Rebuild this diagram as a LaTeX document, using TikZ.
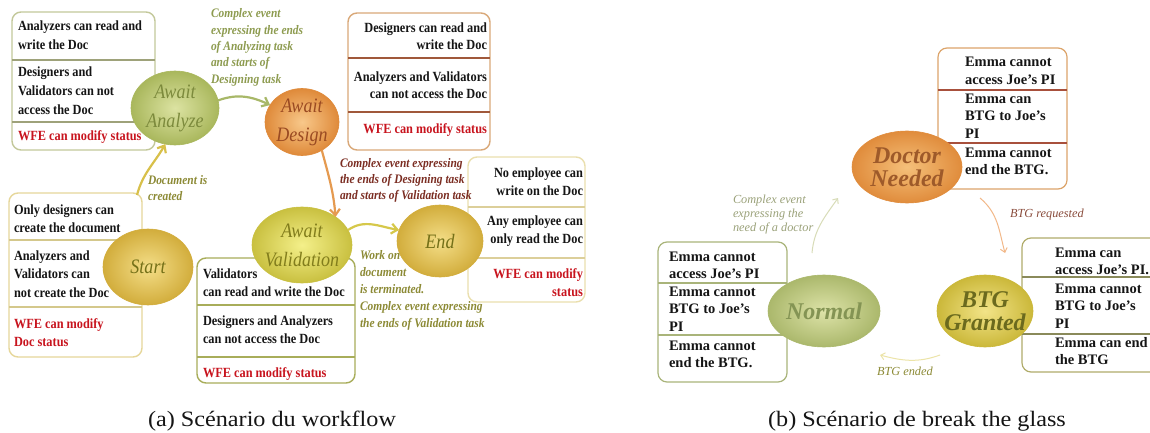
\documentclass[tikz,border=0pt]{standalone}
\usepackage{fontspec}
\setmainfont{Liberation Serif}
\newfontfamily\condf[FakeStretch=0.88]{Liberation Serif}
\newfontfamily\capf[FakeStretch=1.1]{Liberation Serif}
\usetikzlibrary{shapes.geometric,arrows.meta,calc}
\definecolor{txtblack}{HTML}{151515}
\definecolor{wfered}{HTML}{C8141E}
% box borders
\definecolor{bdAna}{HTML}{C3C89A}\definecolor{dvAna}{HTML}{9EA27A}
\definecolor{bdDes}{HTML}{D9A878}\definecolor{dvDes}{HTML}{A0583A}
\definecolor{bdSta}{HTML}{E6D79A}\definecolor{dvSta}{HTML}{D4C88C}
\definecolor{bdVal}{HTML}{A8AD5A}\definecolor{dvVal}{HTML}{A8AD5A}
\definecolor{bdEnd}{HTML}{EADFAE}\definecolor{dvEnd}{HTML}{DCCF9A}
\definecolor{bdDoc}{HTML}{DCA46A}\definecolor{dvDoc}{HTML}{A8503C}
\definecolor{bdNor}{HTML}{A9B47A}\definecolor{dvNor}{HTML}{A9B47A}
\definecolor{bdBtg}{HTML}{B0AC6A}\definecolor{dvBtg}{HTML}{8A8A5A}
% ellipse colours
\definecolor{inAna}{HTML}{DCE3A2}\definecolor{outAna}{HTML}{A9B75C}\definecolor{txAna}{HTML}{7C8A3C}
\definecolor{inDes}{HTML}{F8C88A}\definecolor{outDes}{HTML}{DF8A3A}\definecolor{txDes}{HTML}{9A4A22}
\definecolor{inVal}{HTML}{F4F08A}\definecolor{outVal}{HTML}{C9C040}\definecolor{txVal}{HTML}{827D1C}
\definecolor{inSta}{HTML}{F4DE88}\definecolor{outSta}{HTML}{D2AD3C}\definecolor{txSta}{HTML}{747018}
\definecolor{inDoc}{HTML}{F5C07A}\definecolor{outDoc}{HTML}{E08C3C}\definecolor{txDoc}{HTML}{9E5A2A}
\definecolor{inBtg}{HTML}{F2E488}\definecolor{outBtg}{HTML}{CBB83A}\definecolor{txBtg}{HTML}{6B6A1E}
\definecolor{inNor}{HTML}{DDE3A8}\definecolor{outNor}{HTML}{ABB86C}\definecolor{txNor}{HTML}{849454}
% labels and arrows
\definecolor{lbGreen}{HTML}{8D9B4F}\definecolor{lbRed}{HTML}{7B2D22}\definecolor{lbOlive}{HTML}{8C8A35}
\definecolor{lbGrey}{HTML}{9BA27A}\definecolor{lbBrown}{HTML}{8A4C3C}
\definecolor{arSta}{HTML}{D8C04A}\definecolor{arAna}{HTML}{A8B868}\definecolor{arDes}{HTML}{E59A50}
\definecolor{arVal}{HTML}{D6C84A}\definecolor{arNor}{HTML}{D8DCB8}\definecolor{arDoc}{HTML}{F2B888}
\definecolor{arBtg}{HTML}{ECE4A8}
\begin{document}
\begin{tikzpicture}[x=1pt,y=-1pt,
  every node/.style={inner sep=0pt, outer sep=0pt},
  cbox/.style={draw, rounded corners=9pt, line width=1.4pt, fill=white, anchor=north west},
  divl/.style={line width=1.3pt},
  ltxt/.style={font=\condf\bfseries\fontsize{14}{18.5}\selectfont, text=txtblack, align=left, anchor=base west},
  ltxtr/.style={ltxt, align=right, anchor=base east},
  rtxt/.style={font=\bfseries\fontsize{14.5}{17.8}\selectfont, text=txtblack, align=left, anchor=base west},
  state/.style={ellipse, line width=0.6pt},
  lstate/.style={font=\condf\itshape\fontsize{20.5}{29}\selectfont, align=center},
  rstate/.style={font=\bfseries\itshape\fontsize{24}{23}\selectfont, align=center},
  llbl/.style={font=\condf\bfseries\itshape\fontsize{13}{16.3}\selectfont, align=left, anchor=base west},
  rlbl/.style={font=\itshape\fontsize{12.3}{14.3}\selectfont, align=left, anchor=base west},
  arr/.style={-{Straight Barb[length=6pt,width=10pt]}, line width=2.2pt},
  rarr/.style={-{Straight Barb[length=4pt,width=7pt]}, line width=1pt},
  capt/.style={font=\capf\fontsize{22}{22}\selectfont, text=txtblack, anchor=base}
]
\useasboundingbox (0,0) rectangle (1150,433);
\clip (0,0) rectangle (1150,433);
\fill[white] (0,0) rectangle (1150,433);
% (text nodes are placed at the baseline of their LAST line)

% ---------------- boxes (left) ----------------
\node[cbox, draw=bdAna, minimum width=143, minimum height=138] (bAna) at (12,12) {};
\draw[divl, dvAna] (12,60) -- (155,60) (12,122) -- (155,122);
\node[ltxt] (tA1) at (18,49.5) {Analyzers can read and\\write the Doc};
\node[ltxt] (tA2) at (18,114) {Designers and\\Validators can not\\access the Doc};
\node[ltxt, text=wfered] (tA3) at (18,140) {WFE can modify status};

\node[cbox, draw=bdDes, minimum width=142, minimum height=137] (bDes) at (348,13) {};
\draw[divl, dvDes] (348,58) -- (490,58) (348,112) -- (490,112);
\node[ltxtr, font=\condf\bfseries\fontsize{14}{17}\selectfont] (tD1) at (487,50) {Designers can read and\\write the Doc};
\node[ltxtr, font=\condf\bfseries\fontsize{14}{17}\selectfont] (tD2) at (487,99) {Analyzers and Validators\\can not access the Doc};
\node[ltxtr, text=wfered] (tD3) at (487,133) {WFE can modify status};

\node[cbox, draw=bdSta, minimum width=133, minimum height=164] (bSta) at (9,193) {};
\draw[divl, dvSta] (9,240) -- (142,240) (9,307) -- (142,307);
\node[ltxt] (tS1) at (14,232.5) {Only designers can\\create the document};
\node[ltxt] (tS2) at (14,297) {Analyzers and\\Validators can\\not create the Doc};
\node[ltxt, text=wfered] (tS3) at (14,346.5) {WFE can modify\\Doc status};

\node[cbox, draw=bdVal, minimum width=158, minimum height=125] (bVal) at (197,258) {};
\draw[divl, dvVal] (197,305) -- (355,305) (197,357) -- (355,357);
\node[ltxt] (tV1) at (203,296.5) {Validators\\can read and write the Doc};
\node[ltxt] (tV2) at (203,343.5) {Designers and Analyzers\\can not access the Doc};
\node[ltxt, text=wfered] (tV3) at (203,377) {WFE can modify status};

\node[cbox, draw=bdEnd, minimum width=117, minimum height=145] (bEnd) at (468,157) {};
\draw[divl, dvEnd] (468,207) -- (585,207) (468,258) -- (585,258);
\node[ltxtr] (tE1) at (583,195.5) {No employee can\\write on the Doc};
\node[ltxtr] (tE2) at (583,243.5) {Any employee can\\only read the Doc};
\node[ltxtr, text=wfered] (tE3) at (583,296.5) {WFE can modify\\status};

% ---------------- boxes (right) ----------------
\node[cbox, draw=bdDoc, line width=1.2pt, minimum width=129, minimum height=141] (bDoc) at (938,48) {};
\draw[divl, dvDoc] (938,90) -- (1067,90) (938,143) -- (1067,143);
\node[rtxt] (tN1) at (965,84.8) {Emma cannot\\access Joe’s PI};
\node[rtxt] (tN2) at (965,138.6) {Emma can\\BTG to Joe’s\\PI};
\node[rtxt] (tN3) at (965,174.8) {Emma cannot\\end the BTG.};

\node[cbox, draw=bdNor, line width=1.2pt, minimum width=129, minimum height=140] (bNor) at (658,242) {};
\draw[divl, dvNor] (658,283) -- (787,283) (658,335) -- (787,335);
\node[rtxt] (tR1) at (669,278.8) {Emma cannot\\access Joe’s PI};
\node[rtxt] (tR2) at (669,331.6) {Emma cannot\\BTG to Joe’s\\PI};
\node[rtxt] (tR3) at (669,367.8) {Emma cannot\\end the BTG.};

\node[cbox, draw=bdBtg, line width=1.2pt, minimum width=150, minimum height=134] (bBtg) at (1022,238) {};
\draw[divl, dvBtg] (1022,277) -- (1172,277) (1022,334) -- (1172,334);
\node[rtxt] (tG1) at (1055,274.8) {Emma can\\access Joe’s PI.};
\node[rtxt] (tG2) at (1055,328.6) {Emma cannot\\BTG to Joe’s\\PI};
\node[rtxt] (tG3) at (1055,364.8) {Emma can end\\the BTG};

% ---------------- states ----------------
\node[state, draw=outAna, inner color=inAna, outer color=outAna, minimum width=88, minimum height=74] (aa) at (175,108) {};
\node[lstate, text=txAna] (aaT) at (aa.center) {Await\\Analyze};
\node[state, draw=outDes, inner color=inDes, outer color=outDes, minimum width=74, minimum height=67] (ad) at (302,122) {};
\node[lstate, text=txDes] (adT) at (ad.center) {Await\\Design};
\node[state, draw=outVal, inner color=inVal, outer color=outVal, minimum width=100, minimum height=76] (av) at (302,245) {};
\node[lstate, text=txVal] (avT) at (av.center) {Await\\Validation};
\node[state, draw=outSta, inner color=inSta, outer color=outSta, minimum width=90, minimum height=76] (ss) at (148,267) {};
\node[lstate, text=txSta] (ssT) at (ss.center) {Start};
\node[state, draw=outSta, inner color=inSta, outer color=outSta, minimum width=86, minimum height=72] (ee) at (440,241) {};
\node[lstate, text=txSta] (eeT) at (ee.center) {End};

\node[state, draw=outDoc, inner color=inDoc, outer color=outDoc, minimum width=110, minimum height=72] (dn) at (907,167) {};
\node[rstate, text=txDoc] (dnT) at (dn.center) {Doctor\\Needed};
\node[state, draw=outBtg, inner color=inBtg, outer color=outBtg, minimum width=96, minimum height=72] (bg) at (985,311) {};
\node[rstate, text=txBtg] (bgT) at (bg.center) {BTG\\Granted};
\node[state, draw=outNor, inner color=inNor, outer color=outNor, minimum width=112, minimum height=72] (nm) at (824,311) {};
\node[rstate, text=txNor] (nmT) at (nm.center) {Normal};

% ---------------- connectors (left) ----------------
\coordinate (s2a) at (137,195);
\draw[arr, arSta] (s2a) to[out=75, in=240] (aa.255);
\draw[arr, arAna] (aa.10) to[out=20, in=155] (ad.152);
\draw[arr, arDes] (ad.-55) to[out=-75, in=95] (av.40);
\draw[arr, arVal] (av.18) to[out=35, in=170] (ee.165);

% ---------------- connectors (right) ----------------
\coordinate (n2d) at (812,253); \coordinate (n2dE) at (838,198);
\coordinate (d2b) at (980,198); \coordinate (d2bE) at (1005,253);
\coordinate (b2n) at (940,355); \coordinate (b2nE) at (880,355);
\draw[rarr, arNor] (n2d) to[out=85, in=235] (n2dE);
\draw[rarr, arDoc] (d2b) to[out=-40, in=105] (d2bE);
\draw[rarr, arBtg] (b2n) to[out=200, in=-15] (b2nE);

% ---------------- labels ----------------
\node[llbl, text=lbGreen] (lAD) at (211,83.2) {Complex event\\expressing the ends\\of Analyzing task\\and starts of\\Designing task};
\node[llbl, text=lbRed, font=\condf\bfseries\itshape\fontsize{13}{16}\selectfont] (lDV) at (340,199) {Complex event expressing\\the ends of Designing task\\and starts of Validation task};
\node[llbl, text=lbOlive, font=\condf\bfseries\itshape\fontsize{13}{17}\selectfont] (lVE) at (360,327) {Work on\\document\\is terminated.\\Complex event expressing\\the ends of Validation task};
\node[llbl, text=lbOlive, font=\condf\bfseries\itshape\fontsize{13}{16}\selectfont] (lSA) at (148,200) {Document is\\created};

\node[rlbl, text=lbGrey] (lND) at (733,231.6) {Complex event\\expressing the\\need of a doctor};
\node[rlbl, text=lbBrown] (lDB) at (1010,217) {BTG requested};
\node[rlbl, text=lbOlive] (lBN) at (877,375) {BTG ended};

% ---------------- captions ----------------
\node[capt] (capA) at (272,426) {(a) Scénario du workflow};
\node[capt] (capB) at (917,426) {(b) Scénario de break the glass};
\end{tikzpicture}
\end{document}
